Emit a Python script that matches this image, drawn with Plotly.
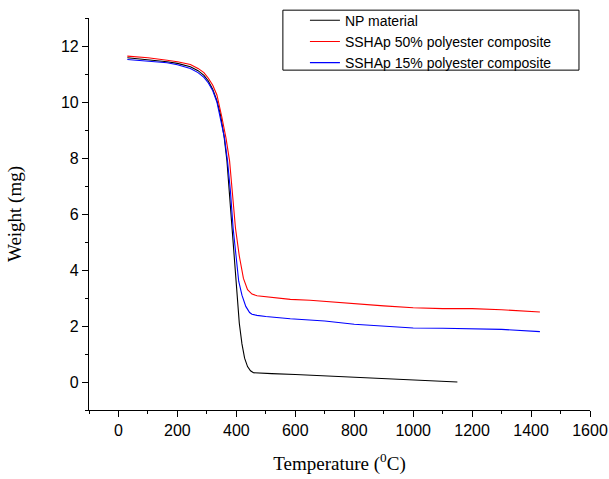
import plotly.graph_objects as go

# NP material (black)
np_temp = [30, 100, 165, 200, 244, 270, 290, 305, 320, 334, 346, 358, 368, 376, 385, 394, 402, 410, 419, 428, 438, 448, 458, 480, 520, 600, 700, 800, 900, 1000, 1100, 1150]
np_weight = [11.58, 11.52, 11.44, 11.38, 11.26, 11.12, 10.95, 10.75, 10.45, 10.05, 9.55, 8.8, 7.9, 6.8, 5.5, 4.3, 3.1, 2.1, 1.36, 0.85, 0.55, 0.40, 0.33, 0.31, 0.30, 0.27, 0.22, 0.17, 0.12, 0.08, 0.03, 0.0]

# SSHAp 50% polyester composite (red)
red_temp = [30, 100, 165, 200, 244, 270, 290, 305, 320, 334, 350, 365, 377, 387, 397, 410, 424, 438, 453, 470, 500, 583, 650, 700, 800, 900, 1000, 1100, 1200, 1300, 1430]
red_weight = [11.64, 11.58, 11.49, 11.44, 11.34, 11.2, 11.05, 10.85, 10.6, 10.25, 9.5, 8.7, 7.9, 6.8, 5.5, 4.5, 3.7, 3.3, 3.14, 3.08, 3.04, 2.95, 2.92, 2.88, 2.78, 2.72, 2.65, 2.62, 2.62, 2.58, 2.5]

# SSHAp 15% polyester composite (blue)
blue_temp = [30, 100, 165, 200, 244, 270, 290, 305, 320, 334, 348, 360, 370, 380, 389, 398, 408, 419, 432, 445, 453, 470, 500, 583, 650, 700, 800, 900, 1000, 1100, 1200, 1300, 1430]
blue_weight = [11.52, 11.47, 11.40, 11.33, 11.2, 11.05, 10.88, 10.68, 10.4, 10.0, 9.35, 8.7, 7.9, 6.8, 5.5, 4.5, 3.6, 3.1, 2.7, 2.48, 2.42, 2.38, 2.34, 2.26, 2.22, 2.18, 2.06, 2.0, 1.93, 1.92, 1.9, 1.88, 1.8]

series = [
    ("NP material", np_temp, np_weight, "black"),
    ("SSHAp 50% polyester composite", red_temp, red_weight, "red"),
    ("SSHAp 15% polyester composite", blue_temp, blue_weight, "blue"),
]

x_ticks = [0, 200, 400, 600, 800, 1000, 1200, 1400, 1600]
y_ticks = [0, 2, 4, 6, 8, 10, 12]

fig = go.Figure()
for name, xs, ys, col in series:
    fig.add_trace(go.Scatter(x=xs, y=ys, mode="lines", name=name,
                             line=dict(color=col, width=1.1)))

# legend frame
fig.add_shape(type="rect", xref="paper", yref="paper",
              x0=0.387, x1=0.978, y0=0.867, y1=1.020,
              line=dict(color="black", width=1), fillcolor="rgba(0,0,0,0)")

fig.update_layout(
    width=609, height=479,
    margin=dict(l=89, r=19, t=18, b=69, autoexpand=False),
    paper_bgcolor="white", plot_bgcolor="white",
    font=dict(family="Liberation Sans, Arial", size=16, color="black"),
    legend=dict(x=0.431, y=1.034, xanchor="left", yanchor="top",
                borderwidth=0, bgcolor="rgba(0,0,0,0)",
                font=dict(family="Liberation Sans, Arial", size=14),
                tracegroupgap=0, itemwidth=30),
    xaxis=dict(range=[-100, 1600], tickvals=x_ticks, ticks="outside",
               ticklen=6, tickwidth=1, tickcolor="black", automargin=False,
               showline=True, linecolor="black", linewidth=1.2,
               showgrid=False, zeroline=False,
               minor=dict(dtick=100, tick0=0, ticks="outside", ticklen=3, tickcolor="black", showgrid=False),
               title=dict(text="Temperature (<sup>0</sup>C)",
                          font=dict(family="Liberation Serif, Times New Roman", size=19), standoff=18)),
    yaxis=dict(range=[-1, 13], tickvals=y_ticks, ticks="outside",
               ticklen=6, tickwidth=1, tickcolor="black", automargin=False,
               showline=True, linecolor="black", linewidth=1.2,
               showgrid=False, zeroline=False,
               minor=dict(dtick=1, tick0=0, ticks="outside", ticklen=3, tickcolor="black", showgrid=False),
               title=dict(text="Weight (mg)",
                          font=dict(family="Liberation Serif, Times New Roman", size=19), standoff=34)),
)

fig.write_html("out.html", config={"displayModeBar": False},
               post_script="document.body.style.margin='0';")
